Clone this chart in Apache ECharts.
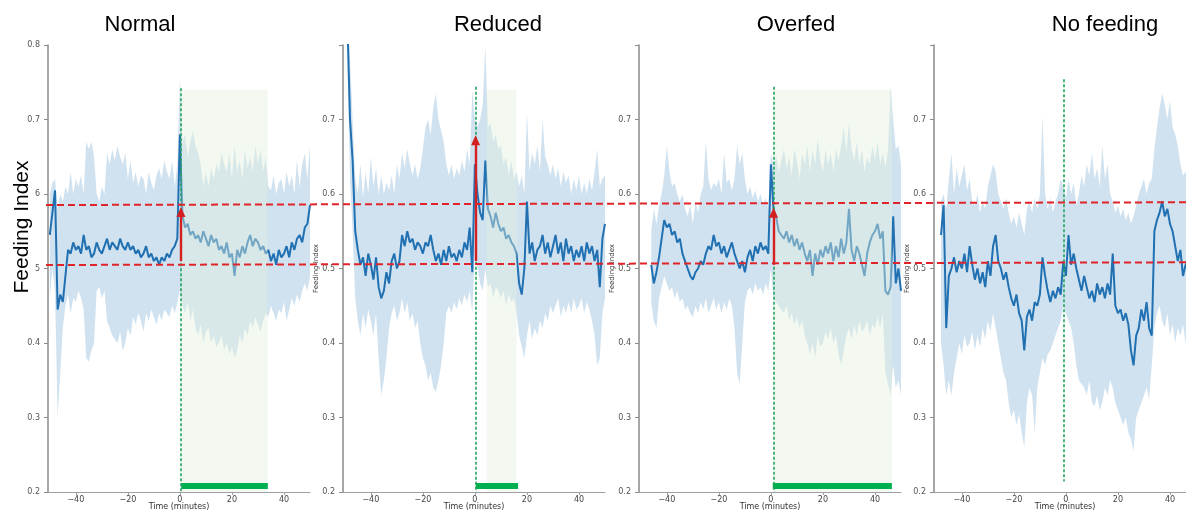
<!DOCTYPE html>
<html>
<head>
<meta charset="utf-8">
<script src="https://cdn.jsdelivr.net/npm/echarts@6/dist/echarts.min.js"></script>
<style>
html, body { margin: 0; padding: 0; background: #fff; }
#chart { width: 1186px; height: 510px; }
</style>
</head>
<body>
<div id="chart"></div>
<script>
const panelTitles = ["Normal", "Reduced", "Overfed", "No feeding"]

const timeMinutes = [
	-50, -49, -48, -47, -46, -45, -44, -43, -42, -41,
	-40, -39, -38, -37, -36, -35, -34, -33, -32, -31,
	-30, -29, -28, -27, -26, -25, -24, -23, -22, -21,
	-20, -19, -18, -17, -16, -15, -14, -13, -12, -11,
	-10, -9, -8, -7, -6, -5, -4, -3, -2, -1,
	0, 1, 2, 3, 4, 5, 6, 7, 8, 9,
	10, 11, 12, 13, 14, 15, 16, 17, 18, 19,
	20, 21, 22, 23, 24, 25, 26, 27, 28, 29,
	30, 31, 32, 33, 34, 35, 36, 37, 38, 39,
	40, 41, 42, 43, 44, 45, 46, 47, 48, 49,
	50,
]

// Normal
const normalMean = [
	0.545, 0.575, 0.605, 0.445, 0.465, 0.455, 0.49, 0.525, 0.52, 0.535,
	0.525, 0.53, 0.52, 0.545, 0.525, 0.53, 0.515, 0.52, 0.535, 0.525,
	0.52, 0.53, 0.54, 0.525, 0.535, 0.53, 0.525, 0.54, 0.53, 0.525,
	0.535, 0.525, 0.53, 0.52, 0.525, 0.515, 0.52, 0.53, 0.515, 0.52,
	0.51, 0.515, 0.505, 0.515, 0.51, 0.52, 0.515, 0.525, 0.53, 0.54,
	0.68, 0.57, 0.555, 0.56, 0.545, 0.55, 0.54, 0.545, 0.535, 0.55,
	0.54, 0.53, 0.545, 0.535, 0.54, 0.525, 0.53, 0.52, 0.535, 0.515,
	0.52, 0.49, 0.525, 0.515, 0.53, 0.52, 0.535, 0.545, 0.53, 0.54,
	0.535, 0.525, 0.53, 0.52, 0.525, 0.51, 0.52, 0.505, 0.525, 0.515,
	0.52, 0.53, 0.515, 0.535, 0.525, 0.54, 0.545, 0.535, 0.555, 0.56,
	0.585,
]
const normalUpper = [
	0.60, 0.615, 0.62, 0.58, 0.60, 0.59, 0.61, 0.60, 0.63, 0.60,
	0.62, 0.61, 0.625, 0.60, 0.67, 0.66, 0.67, 0.65, 0.60, 0.59,
	0.61, 0.60, 0.655, 0.64, 0.66, 0.645, 0.665, 0.65, 0.64, 0.655,
	0.62, 0.645, 0.615, 0.63, 0.61, 0.625, 0.62, 0.60, 0.63, 0.615,
	0.605, 0.625, 0.635, 0.62, 0.645, 0.63, 0.62, 0.645, 0.61, 0.64,
	0.755, 0.67, 0.68, 0.65, 0.67, 0.685, 0.665, 0.655, 0.64, 0.61,
	0.63, 0.61, 0.635, 0.62, 0.64, 0.63, 0.655, 0.64, 0.63, 0.655,
	0.62, 0.665, 0.63, 0.645, 0.62, 0.66, 0.635, 0.65, 0.63, 0.665,
	0.64, 0.66, 0.63, 0.65, 0.61, 0.605, 0.625, 0.60, 0.615, 0.62,
	0.60, 0.63, 0.61, 0.625, 0.60, 0.645, 0.61, 0.64, 0.655, 0.62,
	0.665,
]
const normalLower = [
	0.46, 0.50, 0.47, 0.30, 0.36, 0.42, 0.45, 0.465, 0.44, 0.46,
	0.455, 0.47, 0.46, 0.445, 0.38, 0.375, 0.39, 0.40, 0.47, 0.475,
	0.46, 0.47, 0.43, 0.42, 0.41, 0.405, 0.40, 0.415, 0.39, 0.40,
	0.42, 0.41, 0.435, 0.425, 0.44, 0.43, 0.415, 0.44, 0.43, 0.445,
	0.435, 0.425, 0.44, 0.43, 0.445, 0.44, 0.435, 0.45, 0.44, 0.455,
	0.47, 0.45, 0.44, 0.455, 0.43, 0.445, 0.42, 0.41, 0.425, 0.40,
	0.415, 0.42, 0.40, 0.41, 0.395, 0.40, 0.41, 0.39, 0.40, 0.385,
	0.395, 0.38, 0.39, 0.41, 0.40, 0.42, 0.41, 0.43, 0.42, 0.435,
	0.425, 0.415, 0.43, 0.44, 0.435, 0.45, 0.44, 0.43, 0.445, 0.44,
	0.455, 0.43, 0.445, 0.46, 0.45, 0.465, 0.455, 0.47, 0.48, 0.47,
	0.49,
]

// Reduced
const reducedMean = [
	null, 0.83, 0.70, 0.645, 0.55, 0.525, 0.505, 0.515, 0.49, 0.52,
	0.505, 0.485, 0.515, 0.475, 0.46, 0.47, 0.495, 0.48, 0.51, 0.52,
	0.50, 0.51, 0.545, 0.53, 0.55, 0.535, 0.54, 0.525, 0.535, 0.53,
	0.52, 0.535, 0.53, 0.545, 0.525, 0.51, 0.52, 0.505, 0.525, 0.51,
	0.53, 0.515, 0.52, 0.51, 0.525, 0.515, 0.535, 0.525, 0.555, 0.495,
	0.64, 0.60, 0.575, 0.565, 0.645, 0.58, 0.57, 0.555, 0.575, 0.56,
	0.55, 0.555, 0.54, 0.545, 0.535, 0.53, 0.52, 0.48, 0.465, 0.50,
	0.59, 0.52, 0.535, 0.51, 0.525, 0.53, 0.545, 0.52, 0.535, 0.515,
	0.53, 0.545, 0.52, 0.535, 0.51, 0.54, 0.52, 0.53, 0.51, 0.525,
	0.515, 0.53, 0.51, 0.535, 0.52, 0.53, 0.51, 0.525, 0.475, 0.54,
	0.56,
]
const reducedUpper = [
	null, 0.85, 0.78, 0.70, 0.62, 0.60, 0.64, 0.595, 0.63, 0.60,
	0.65, 0.61, 0.635, 0.60, 0.625, 0.60, 0.615, 0.605, 0.625, 0.60,
	0.64, 0.62, 0.655, 0.635, 0.66, 0.64, 0.625, 0.64, 0.62, 0.635,
	0.66, 0.69, 0.70, 0.68, 0.715, 0.735, 0.70, 0.685, 0.67, 0.64,
	0.625, 0.64, 0.62, 0.635, 0.625, 0.645, 0.63, 0.66, 0.64, 0.74,
	0.70, 0.69, 0.70, 0.72, 0.80, 0.69, 0.695, 0.67, 0.68, 0.66,
	0.665, 0.64, 0.65, 0.625, 0.645, 0.62, 0.63, 0.61, 0.625, 0.60,
	0.71, 0.63, 0.655, 0.64, 0.665, 0.63, 0.70, 0.65, 0.64, 0.625,
	0.64, 0.62, 0.635, 0.61, 0.63, 0.615, 0.625, 0.60, 0.62, 0.605,
	0.625, 0.60, 0.615, 0.60, 0.62, 0.605, 0.63, 0.66, 0.61, 0.62,
	0.625,
]
const reducedLower = [
	null, 0.78, 0.62, 0.55, 0.46, 0.43, 0.41, 0.44, 0.42, 0.445,
	0.43, 0.41, 0.44, 0.38, 0.33, 0.35, 0.38, 0.42, 0.44, 0.45,
	0.43, 0.44, 0.46, 0.44, 0.455, 0.43, 0.44, 0.42, 0.43, 0.40,
	0.38, 0.37, 0.35, 0.36, 0.34, 0.335, 0.35, 0.37, 0.40, 0.44,
	0.45, 0.44, 0.455, 0.445, 0.46, 0.45, 0.465, 0.455, 0.47, 0.44,
	0.52, 0.50, 0.48, 0.47, 0.50, 0.475, 0.48, 0.46, 0.475, 0.47,
	0.46, 0.47, 0.45, 0.465, 0.455, 0.46, 0.44, 0.41, 0.395, 0.38,
	0.41, 0.43, 0.405, 0.42, 0.41, 0.43, 0.42, 0.44, 0.43, 0.45,
	0.44, 0.45, 0.46, 0.435, 0.45, 0.44, 0.455, 0.44, 0.46, 0.445,
	0.45, 0.46, 0.44, 0.455, 0.445, 0.43, 0.41, 0.37, 0.38, 0.44,
	0.46,
]

// Overfed
const overfedMean = [
	null, null, null, null, 0.505, 0.48, 0.495, 0.515, 0.54, 0.565,
	0.555, 0.56, 0.545, 0.55, 0.535, 0.54, 0.52, 0.51, 0.50, 0.49,
	0.485, 0.495, 0.50, 0.51, 0.505, 0.52, 0.53, 0.525, 0.545, 0.53,
	0.535, 0.52, 0.53, 0.515, 0.525, 0.535, 0.52, 0.51, 0.50, 0.51,
	0.495, 0.515, 0.525, 0.51, 0.53, 0.52, 0.535, 0.525, 0.53, 0.52,
	0.64, 0.58, 0.57, 0.55, 0.545, 0.54, 0.55, 0.535, 0.545, 0.53,
	0.54, 0.525, 0.535, 0.52, 0.51, 0.525, 0.49, 0.52, 0.505, 0.525,
	0.515, 0.53, 0.52, 0.535, 0.51, 0.53, 0.515, 0.54, 0.52, 0.535,
	0.58, 0.525, 0.51, 0.53, 0.52, 0.505, 0.49, 0.52, 0.535, 0.545,
	0.55, 0.56, 0.54, 0.55, 0.47, 0.465, 0.475, 0.57, 0.48, 0.50,
	0.47,
]
const overfedUpper = [
	null, null, null, null, 0.55, 0.58, 0.56, 0.585, 0.60, 0.625,
	0.665, 0.63, 0.61, 0.615, 0.60, 0.59, 0.60, 0.58, 0.57, 0.585,
	0.56, 0.59, 0.575, 0.60, 0.61, 0.67, 0.62, 0.605, 0.615, 0.61,
	0.62, 0.60, 0.655, 0.615, 0.62, 0.605, 0.62, 0.665, 0.64, 0.655,
	0.62, 0.60, 0.61, 0.595, 0.605, 0.59, 0.60, 0.585, 0.595, 0.58,
	0.655, 0.64, 0.65, 0.63, 0.645, 0.66, 0.635, 0.65, 0.625, 0.66,
	0.645, 0.62, 0.655, 0.64, 0.665, 0.63, 0.66, 0.64, 0.675, 0.645,
	0.63, 0.66, 0.64, 0.655, 0.63, 0.66, 0.645, 0.665, 0.69, 0.655,
	0.695, 0.66, 0.645, 0.67, 0.64, 0.66, 0.63, 0.65, 0.64, 0.665,
	0.645, 0.67, 0.64, 0.655, 0.635, 0.66, 0.745, 0.70, 0.66, 0.665,
	0.64,
]
const overfedLower = [
	null, null, null, null, 0.455, 0.43, 0.42, 0.46, 0.475, 0.49,
	0.48, 0.47, 0.475, 0.46, 0.47, 0.455, 0.46, 0.445, 0.45, 0.44,
	0.435, 0.45, 0.44, 0.455, 0.445, 0.46, 0.44, 0.45, 0.46, 0.445,
	0.455, 0.44, 0.455, 0.445, 0.46, 0.45, 0.42, 0.36, 0.345, 0.40,
	0.455, 0.47, 0.475, 0.465, 0.48, 0.47, 0.475, 0.465, 0.48, 0.47,
	0.50, 0.46, 0.455, 0.45, 0.445, 0.44, 0.45, 0.43, 0.44, 0.425,
	0.435, 0.42, 0.43, 0.41, 0.40, 0.385, 0.40, 0.38, 0.41, 0.395,
	0.40, 0.415, 0.405, 0.42, 0.40, 0.41, 0.385, 0.37, 0.39, 0.41,
	0.42, 0.405, 0.425, 0.41, 0.43, 0.415, 0.42, 0.43, 0.41, 0.425,
	0.42, 0.435, 0.42, 0.44, 0.36, 0.345, 0.33, 0.37, 0.34, 0.35,
	0.33,
]

// No feeding
const noFeedMean = [
	null, null, 0.545, 0.585, 0.42, 0.49, 0.50, 0.515, 0.495, 0.51,
	0.50, 0.52, 0.495, 0.53, 0.505, 0.485, 0.50, 0.48, 0.495, 0.475,
	0.51, 0.49, 0.53, 0.545, 0.51, 0.50, 0.485, 0.495, 0.475, 0.46,
	0.45, 0.465, 0.44, 0.43, 0.39, 0.435, 0.445, 0.43, 0.455, 0.45,
	0.465, 0.515, 0.49, 0.47, 0.455, 0.47, 0.46, 0.475, 0.465, 0.51,
	0.49, 0.545, 0.505, 0.52, 0.50, 0.485, 0.47, 0.49, 0.475, 0.46,
	0.47, 0.455, 0.48, 0.465, 0.475, 0.46, 0.48, 0.465, 0.52, 0.45,
	0.44, 0.445, 0.43, 0.44, 0.425, 0.39, 0.37, 0.41, 0.42, 0.445,
	0.43, 0.455, 0.42, 0.41, 0.55, 0.565, 0.575, 0.59, 0.57, 0.58,
	0.56, 0.55, 0.53, 0.51, 0.525, 0.49, 0.505, 0.51, null, null,
	null,
]
const noFeedUpper = [
	null, null, 0.59, 0.60, 0.58, 0.62, 0.655, 0.60, 0.635, 0.61,
	0.625, 0.64, 0.605, 0.62, 0.59, 0.585, 0.60, 0.575, 0.59, 0.58,
	0.61, 0.625, 0.64, 0.63, 0.60, 0.59, 0.58, 0.595, 0.575, 0.56,
	0.57, 0.555, 0.575, 0.56, 0.545, 0.58, 0.59, 0.575, 0.595, 0.58,
	0.60, 0.705, 0.60, 0.58, 0.595, 0.575, 0.59, 0.60, 0.62, 0.61,
	0.595, 0.62, 0.60, 0.615, 0.585, 0.60, 0.625, 0.61, 0.64, 0.625,
	0.655, 0.62, 0.635, 0.61, 0.665, 0.62, 0.64, 0.60, 0.59, 0.575,
	0.585, 0.57, 0.58, 0.565, 0.575, 0.56, 0.57, 0.585, 0.60, 0.61,
	0.62, 0.60, 0.615, 0.62, 0.66, 0.69, 0.715, 0.735, 0.72, 0.70,
	0.725, 0.69, 0.68, 0.665, 0.64, 0.625, 0.63, 0.62, null, null,
	null,
]
const noFeedLower = [
	null, null, 0.40, 0.37, 0.33, 0.35, 0.33, 0.36, 0.38, 0.40,
	0.385, 0.41, 0.395, 0.40, 0.415, 0.39, 0.41, 0.395, 0.42, 0.405,
	0.43, 0.415, 0.44, 0.42, 0.40, 0.38, 0.36, 0.35, 0.32, 0.30,
	0.31, 0.29, 0.305, 0.28, 0.26, 0.32, 0.34, 0.33, 0.28, 0.34,
	0.36, 0.38, 0.37, 0.385, 0.39, 0.40, 0.41, 0.42, 0.43, 0.45,
	0.44, 0.43, 0.42, 0.40, 0.37, 0.35, 0.345, 0.34, 0.33, 0.35,
	0.32, 0.315, 0.33, 0.31, 0.32, 0.34, 0.33, 0.35, 0.34, 0.32,
	0.31, 0.30, 0.29, 0.30, 0.28, 0.27, 0.255, 0.30, 0.31, 0.32,
	0.33, 0.34, 0.325, 0.37, 0.42, 0.44, 0.45, 0.43, 0.42, 0.44,
	0.41, 0.425, 0.40, 0.42, 0.41, 0.425, 0.40, 0.41, null, null,
	null,
]

const xTickValues = [-40, -20, 0, 20, 40]
const yTickLabels = [
	["0.2", "0.3", "0.4", "5", "6", "0.7", "0.8"],
	["0.2", "0.3", "0.4", "0.5", "0.6", "0.7", ""],
	["0.2", "0.3", "0.4", "0.5", "0.6", "0.7", ""],
	["0.2", "0.3", "0.4", "0.5", "0.6", "0.7", ""],
]

// feeding window annotations (minutes / index values)
const shadeStart = [0.6, 4.5, 1.2, null]
const shadeEnd = [33.7, 16, 46.5, null]
const shadeTop = 0.74
const barStart = [0.5, 0.3, 0.7, null]
const barEnd = [33.8, 16.6, 46.5, null]
const greenX = [0.4, 0.25, 0.9, -0.9]
const greenTop = [0.742, 0.744, 0.744, 0.754]
const greenBottom = [0.2, 0.2, 0.2, 0.214]
const arrowX = [0.4, 0.25, 1.0, null]
const arrowBase = [0.51, 0.51, 0.505, null]
const arrowTip = [0.576, 0.672, 0.575, null]

// reference levels drawn across all panels (left end, right end)
const redUpper = [0.5852, 0.5889]
const redLower = [0.5047, 0.5083]

const panelData = [
	[normalMean, normalUpper, normalLower],
	[reducedMean, reducedUpper, reducedLower],
	[overfedMean, overfedUpper, overfedLower],
	[noFeedMean, noFeedUpper, noFeedLower],
]

const gridLeft = [48, 343, 639, 934]
const titleCenter = [140, 498, 796, 1105]

function pairs(values) {
	const out = []
	values.forEach((v, i) => {
		if (v !== null) out.push([timeMinutes[i], v])
	})
	return out
}

function bandRows(upper, lower) {
	const out = []
	upper.forEach((v, i) => {
		if (v !== null && lower[i] !== null) out.push([timeMinutes[i], lower[i], v])
	})
	return out
}

const grids = []
const xAxes = []
const yAxes = []
const series = []

panelData.forEach(([mean, upper, lower], i) => {
	grids.push({ left: gridLeft[i], top: 45, width: 262, height: 447, outerBoundsMode: "none" })
	xAxes.push({
		gridIndex: i,
		type: "value",
		min: -50.7,
		max: 50,
		name: "Time (minutes)",
		nameLocation: "middle",
		nameGap: 11,
		nameMoveOverlap: false,
		nameTextStyle: { fontSize: 8, color: "#333", fontFamily: "DejaVu Sans" },
		axisLine: { onZero: false, lineStyle: { color: "#a0a0a0", width: 1.2 } },
		axisTick: { customValues: xTickValues, length: 3, lineStyle: { color: "#a0a0a0" } },
		axisLabel: {
			customValues: xTickValues,
			fontSize: 8,
			color: "#444",
			margin: 4,
			fontFamily: "DejaVu Sans",
			formatter: (v) => (v < 0 ? "\u2212" + -v : String(v)),
		},
		splitLine: { show: false },
	})
	yAxes.push({
		gridIndex: i,
		type: "value",
		min: 0.2,
		max: 0.8,
		interval: 0.1,
		name: i === 0 ? "" : "Feeding Index",
		nameLocation: "middle",
		nameGap: 23,
		nameMoveOverlap: false,
		nameTextStyle: { fontSize: 7, color: "#333", fontFamily: "DejaVu Sans" },
		axisLine: { show: true, onZero: false, lineStyle: { color: "#8a8a8a", width: 1.5 } },
		axisTick: { show: true, length: 4, lineStyle: { color: "#8a8a8a" } },
		axisLabel: {
			fontSize: 8,
			color: "#555",
			margin: 8,
			fontFamily: "DejaVu Sans",
			formatter: (v) => yTickLabels[i][Math.round((v - 0.2) * 10)],
		},
		splitLine: { show: false },
	})

	// confidence band: one polygon through the upper values and back along the lower values
	const rows = bandRows(upper, lower)
	series.push({
		type: "custom",
		xAxisIndex: i,
		yAxisIndex: i,
		data: rows,
		silent: true,
		z: 1,
		encode: { x: 0, y: [1, 2] },
		renderItem: (params, api) => {
			if (params.dataIndex !== 0) return null
			const top = rows.map((r) => api.coord([r[0], r[2]]))
			const bottom = rows.map((r) => api.coord([r[0], r[1]])).reverse()
			const cs = params.coordSys
			return {
				type: "polygon",
				shape: { points: top.concat(bottom) },
				style: { fill: "rgba(31,119,180,0.21)" },
				clipPath: { type: "rect", shape: { x: cs.x, y: cs.y, width: cs.width, height: cs.height } },
			}
		},
	})

	const areas = []
	if (shadeStart[i] !== null) {
		areas.push([
			{ coord: [shadeStart[i], shadeTop], itemStyle: { color: "rgba(226,241,222,0.42)", opacity: 1 } },
			{ coord: [shadeEnd[i], 0.2] },
		])
		areas.push([
			{ coord: [barStart[i], 0.212], itemStyle: { color: "#00b050", opacity: 1 } },
			{ coord: [barEnd[i], 0.204] },
		])
	}
	const lines = [
		[
			{ coord: [greenX[i], greenTop[i]], lineStyle: { color: "#22a35c", type: [3, 2], width: 1.6 } },
			{ coord: [greenX[i], greenBottom[i]] },
		],
	]
	if (arrowX[i] !== null) {
		lines.push([
			{ coord: [arrowX[i], arrowBase[i]], symbol: "none", lineStyle: { color: "#d42020", type: "solid", width: 2.4 } },
			{ coord: [arrowX[i], arrowTip[i]], symbol: "triangle", symbolSize: [9, 10] },
		])
	}

	series.push({
		type: "line",
		xAxisIndex: i,
		yAxisIndex: i,
		data: pairs(mean),
		symbol: "none",
		lineStyle: { color: "#2170b2", width: 2 },
		z: 2,
		markArea: { silent: true, z: 3, data: areas },
		markLine: {
			silent: true,
			z: 5,
			symbol: ["none", "none"],
			label: { show: false },
			emphasis: { disabled: true },
			data: lines,
		},
	})
})

// overlay grid for the red reference lines spanning every panel
grids.push({ left: 46, right: 0, top: 45, height: 447, outerBoundsMode: "none" })
xAxes.push({ gridIndex: 4, type: "value", min: 0, max: 1, show: false })
yAxes.push({ gridIndex: 4, type: "value", min: 0.2, max: 0.8, show: false })
;[redUpper, redLower].forEach((lvl) => {
	series.push({
		type: "line",
		xAxisIndex: 4,
		yAxisIndex: 4,
		data: [[0, lvl[0]], [1, lvl[1]]],
		symbol: "none",
		silent: true,
		lineStyle: { color: "#e0242a", width: 2, type: [7, 4] },
		z: 10,
	})
})

const graphics = panelTitles.map((t, i) => ({
	type: "text",
	x: titleCenter[i],
	y: 25,
	style: {
		text: t,
		align: "center",
		verticalAlign: "middle",
		fontSize: 22,
		fontFamily: "Liberation Sans",
		fill: "#000",
	},
}))
graphics.push({
	type: "text",
	x: 22,
	y: 227,
	rotation: Math.PI / 2,
	style: {
		text: "Feeding Index",
		align: "center",
		verticalAlign: "middle",
		fontSize: 21,
		fontFamily: "Liberation Sans",
		fill: "#000",
	},
})

const chart = echarts.init(document.getElementById("chart"))
chart.setOption({
	animation: false,
	backgroundColor: "#fff",
	grid: grids,
	xAxis: xAxes,
	yAxis: yAxes,
	series: series,
	graphic: graphics,
})
</script>
</body>
</html>
